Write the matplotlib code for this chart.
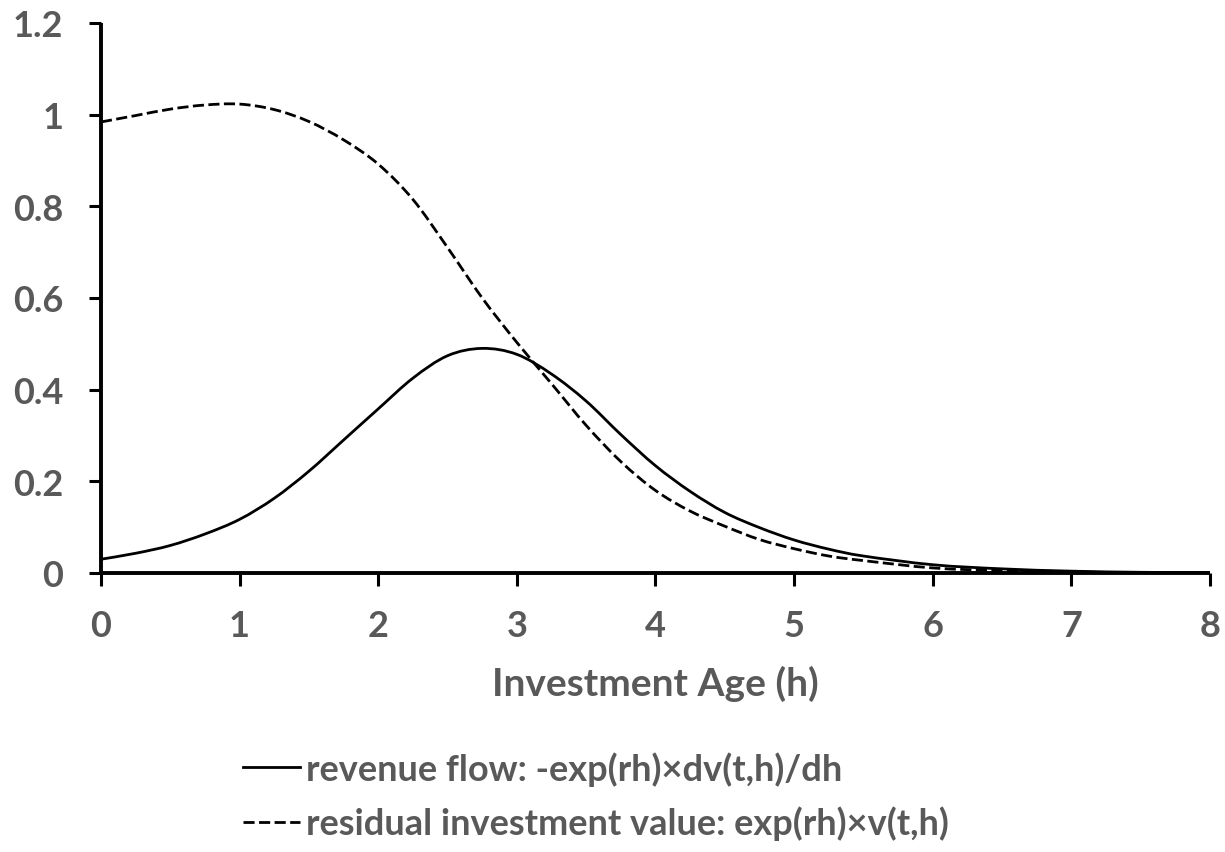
import matplotlib
matplotlib.use("Agg")
import matplotlib.pyplot as plt
from matplotlib.path import Path
from matplotlib.patches import PathPatch
from matplotlib.lines import Line2D

# investment age h
age = [0, 0.25, 0.5, 0.75, 1.0, 1.25, 1.5, 1.75, 2.0, 2.25, 2.5, 2.75,
       3.0, 3.25, 3.5, 3.75, 4.0, 4.25, 4.5, 4.75, 5.0, 5.25, 5.5,
       6.0, 6.5, 7.0, 7.5, 8.0]

# revenue flow: -exp(rh) x dv(t,h)/dh
revenue = [0.030, 0.043, 0.060, 0.085, 0.117, 0.163, 0.222, 0.290, 0.358,
           0.425, 0.474, 0.490, 0.477, 0.434, 0.375, 0.302, 0.234, 0.178,
           0.132, 0.099, 0.072, 0.052, 0.037, 0.018, 0.009, 0.004, 0.0015,
           0.0005]

# residual investment value: exp(rh) x v(t,h)
residual = [0.984, 0.998, 1.012, 1.021, 1.023, 1.011, 0.985, 0.945, 0.892,
            0.815, 0.710, 0.600, 0.503, 0.413, 0.322, 0.243, 0.180, 0.135,
            0.102, 0.073, 0.053, 0.037, 0.027, 0.011, 0.005, 0.002, 0.001,
            0.0003]

x_ticks = [0, 1, 2, 3, 4, 5, 6, 7, 8]
y_ticks = [0, 0.2, 0.4, 0.6, 0.8, 1.0, 1.2]
y_tick_labels = ["0", "0.2", "0.4", "0.6", "0.8", "1", "1.2"]

labels = ['revenue flow: -exp(rh)×dv(t,h)/dh',
          'residual investment value: exp(rh)×v(t,h)']

grey = "#595959"
dash = (0, (4, 1.6))


def smooth_path(xs, ys):
    """Catmull-Rom spline through the points, as cubic bezier segments
    (like Excel's smoothed line)."""
    verts = [(xs[0], ys[0])]
    codes = [Path.MOVETO]
    n = len(xs)
    for i in range(n - 1):
        x0, y0 = (xs[i - 1], ys[i - 1]) if i > 0 else (xs[i], ys[i])
        x1, y1 = xs[i], ys[i]
        x2, y2 = xs[i + 1], ys[i + 1]
        x3, y3 = (xs[i + 2], ys[i + 2]) if i + 2 < n else (x2, y2)
        c1 = (x1 + (x2 - x0) / 6, y1 + (y2 - y0) / 6)
        c2 = (x2 - (x3 - x1) / 6, y2 - (y3 - y1) / 6)
        verts += [c1, c2, (x2, y2)]
        codes += [Path.CURVE4] * 3
    return Path(verts, codes)


plt.rcParams['font.family'] = ['Lato', 'DejaVu Sans']
plt.rcParams['font.weight'] = 'bold'

fig = plt.figure(figsize=(12.25, 8.53), dpi=100)
ax = fig.add_axes([0.0824, 0.3271, 0.9054, 0.6448])

ax.add_patch(PathPatch(smooth_path(age, revenue), fill=False,
                       edgecolor='black', lw=2.0, capstyle='butt'))
ax.add_patch(PathPatch(smooth_path(age, residual), fill=False,
                       edgecolor='black', lw=2.0, linestyle=dash,
                       capstyle='butt'))

ax.set_xlim(0, 8)
ax.set_ylim(0, 1.2)
ax.set_xticks(x_ticks)
ax.set_yticks(y_ticks)
ax.set_yticklabels(y_tick_labels)

for side in ['top', 'right']:
    ax.spines[side].set_visible(False)
for side in ['left', 'bottom']:
    ax.spines[side].set_linewidth(2.8)
    ax.spines[side].set_capstyle('butt')

ax.tick_params(axis='x', direction='out', length=9, width=2.2, pad=17,
               labelsize=26, labelcolor=grey)
ax.tick_params(axis='y', direction='out', length=9, width=2.2, pad=18,
               labelsize=26, labelcolor=grey)
for lab in ax.get_xticklabels() + ax.get_yticklabels():
    lab.set_fontweight('bold')

ax.set_xlabel('Investment Age (h)', fontsize=28, color=grey,
              fontweight='bold', labelpad=16)

handles = [Line2D([], [], color='black', lw=2.0),
           Line2D([], [], color='black', lw=2.0, linestyle=dash)]
leg = fig.legend(handles, labels, loc='upper left',
                 bbox_to_anchor=(0.198, 0.118), frameon=False, fontsize=26,
                 handlelength=1.6, handletextpad=0.17, labelspacing=0.55,
                 borderaxespad=0, borderpad=0)
for t in leg.get_texts():
    t.set_color(grey)
    t.set_fontweight('bold')

fig.savefig('out.png', dpi=100)
